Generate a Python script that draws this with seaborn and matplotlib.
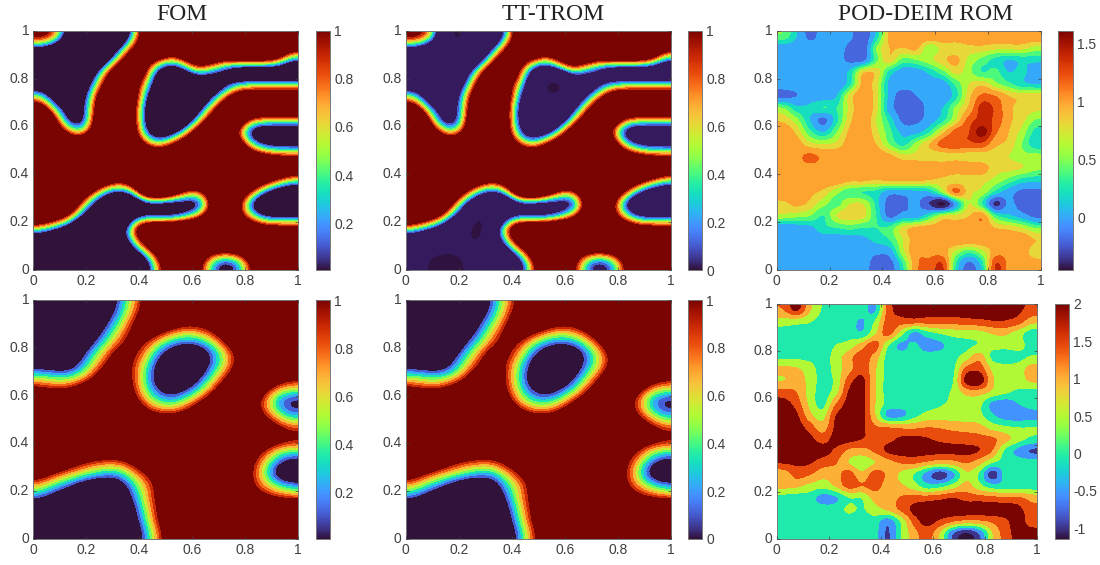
import numpy as np
import matplotlib
matplotlib.use("Agg")
import matplotlib.pyplot as plt
from matplotlib.colors import BoundaryNorm, ListedColormap, Normalize
from matplotlib.cm import ScalarMappable
import seaborn as sns

# Signed distance (hundredths of the unit square) to the phase interface, cells top row first.
PHASE_TOP = np.array([
[3,2,-2,-7,-10,-10,-6,-1,4,9,10,10,10,10,10,10,10,10,10,10],
[-2,-3,-6,-10,-10,-6,-2,2,5,8,4.5,7,9,8,7,7,7,7,6,3],
[-7,-8,-10,-10,-7,-3,1,5,4,1.5,0,2,4.5,3.5,2,3,3,3,2,-1.5],
[-10,-10,-10,-8,-3,1,5,7,2,-3,-5,-2.5,0,-1.5,-3,-5.5,-5.5,-5.5,-5.5,-6],
[-4,-5,-8,-5,-1.5,3,6,3.5,.5,-4,-8,-7,-5,-5,-3,-1,-.5,-.5,-.5,-.5],
[0,-3,-6,-4,.5,5,9,4,-1,-6,-10,-10,-6,-2.5,1,4,4.5,4.5,4.5,4.5],
[4,0,-3,-3.5,1,6,10,3,-2,-7,-10,-8,-3,1,4.5,7,6,5.5,5.5,5.5],
[9,3.5,-2,-4,1.5,7,10,3,-2,-7,-8,-4,0,3.5,6,5,1,.5,.5,.5],
[10,5,2,-.5,2.5,7,10,3.5,-1.5,-4.5,-3,0,3.5,7,6,1,-3.5,-4.5,-4.5,-4.5],
[10,9,5,4.5,7,10,10,5,1.5,0,2,4,8,10,7,4,-.5,-2.5,-3,-3],
[10,10,10,9,10,10,10,9,5.5,4.5,5.5,8,10,10,9,6,4,2.5,2,2],
[10,10,10,10,10,9,8,8,10,10,10,10,10,10,10,10,10,8.5,6.5,5],
[10,10,10,9,6,4,2.5,4,7,8,7,6,5.5,7,7,6.5,5,3.5,1.5,0],
[10,10,9,5,2,-1,-2.3,-.5,5.7,7.8,5,1.5,.9,4.5,8,4.5,2,-1.5,-3.5,-4.5],
[10,8.5,6,2,-2,-5,-7,-6,-3.5,-4,-4,-3.5,-3.5,2.5,7,2.5,-2.5,-6,-7,-7],
[5.5,4,2.5,-1,-4.5,-7,-10,-3,-2.5,-2.5,-2.5,-1.5,1,4,7.5,3,0,-2,-2.3,-2.3],
[.5,-.8,-2.5,-6,-9,-10,-3.5,1.2,5.8,5.8,5.8,7,6,9,10,6,4.5,3,2.7,2.7],
[-4.5,-6,-8,-10,-10,-9,-5,0,4,7,9,9,8,7.5,7,8,7.5,8,8,8],
[-10,-10,-10,-10,-10,-10,-7,-3.5,0,3.5,7,8,4.5,2.5,2,2.5,4.5,8,10,10],
[-10,-10,-10,-10,-10,-10,-10,-7.5,-3.5,1.2,5,6,2.8,-1,-3,-1.5,2,6.5,10,10],
])

PHASE_BOTTOM = np.array([
[-10,-10,-10,-10,-10,-7,-3,1,5,10,10,10,10,10,10,10,10,10,10,10],
[-10,-10,-10,-10,-9,-5,-1.5,2.5,7,10,9,7,7,8,10,10,10,10,10,10],
[-10,-10,-10,-10,-7,-3,.5,4.5,8,6,3.5,2,2.5,4.5,8,10,10,10,10,10],
[-10,-10,-10,-9,-4,-1,2.5,6,4,.5,-2,-3,-2.5,0,4,8,10,10,10,10],
[-10,-10,-9,-5,-1.5,2,6,5,1.5,-3,-6,-8,-7,-3.5,.5,5,9,10,10,10],
[-5,-5.5,-6,-3.5,.5,4,8,3.5,-.5,-5,-9,-10,-7,-3,.5,5,9,10,10,10],
[0,-.7,-1,.5,3.5,8,8,3.5,-1,-6,-9,-8,-4.5,-.5,3.5,8,10,10,7,5],
[5,4,4,6,8,10,9,4,-.5,-4,-6,-4,-1.5,2.5,7,10,8,5,1,0],
[10,9,9,10,10,10,10,6,1.5,-1,-1.5,0,3.5,7,10,10,6,2,-3,-5],
[10,10,10,10,10,10,10,10,5.5,3.5,3,5,8,10,10,10,7,3,-.5,-3],
[10,10,10,10,10,10,10,10,10,10,10,10,10,10,10,10,9,7,4,2],
[10,10,10,10,10,10,10,10,10,10,10,10,10,10,10,10,10,8,7,5.5],
[10,10,10,10,9,8,8,9,10,10,10,10,10,10,10,10,7,4,1,0],
[10,10,7.5,5,3.5,3,3,5,7.5,10,10,10,10,10,10,9,4.5,1,-3,-5],
[6.5,4,2,.7,-.7,-2,-2,1,4,6.5,10,10,10,10,10,9,4,-.7,-6,-8],
[1.5,-1,-2.5,-5,-7,-7,-6,-2,1.5,5,10,10,10,10,10,9,4,1.5,-1,-2.5],
[-3,-5,-7.5,-10,-10,-10,-7.5,-3.5,1,5,9,10,10,10,10,10,7,4.5,3.5,2.5],
[-8,-10,-10,-10,-10,-10,-10,-5,0,4.5,9.5,10,10,10,10,10,10,10,10,10],
[-10,-10,-10,-10,-10,-10,-10,-6,-1,4,9,10,10,10,10,10,10,10,10,10],
[-10,-10,-10,-10,-10,-10,-10,-7.5,-2.5,2.5,7.5,10,10,10,10,10,10,10,10,10],
])

# Deeper spots the reduced model shows inside the dark phase: (row, column, value).
TROM_SPOTS = [(0,3,-13),(4,10,-13),(4,11,-15),(15,5,-12),(16,5,-15),(17,5,-12),
              (19,2,-14),(19,3,-14)]

POD_TOP = np.array([
[.45,.2,-.05,.1,.1,.05,-.15,.25,.85,.95,.95,.95,.95,.95,.95,.95,.95,.95,.95,.95],
[.1,.1,.1,.1,.1,-.05,-.15,.5,.8,.8,.85,.55,.7,.7,.75,.75,.7,.7,.7,.6],
[.1,.1,.1,.1,.1,-.05,-.05,.45,.75,.45,.5,.6,.75,.85,.6,.45,.3,.2,.25,.25],
[.1,.1,.1,.1,.1,.25,.75,.75,.3,.1,.1,.25,.45,.7,.55,.35,.4,.2,.25,.1],
[.1,.1,.1,.1,.05,.3,.85,.7,.15,.1,.05,.1,.1,.4,.65,.75,.55,.4,.25,.2],
[-.05,0,.1,.1,.2,.7,.95,.7,.15,-.1,0,.1,.05,.3,.75,1.05,1,.8,.75,.75],
[.5,.25,.25,.35,.35,.7,.95,.7,.1,-.1,-.15,.1,.2,.55,.85,1.3,1.15,.85,.75,.7],
[.75,.55,.2,-.05,.3,.75,.95,.65,.3,-.05,-.05,.1,.3,.65,1.1,1.25,1.15,.85,.7,.5],
[.95,.75,.4,.2,.5,.85,.95,.7,.4,.15,.15,.35,.75,1.1,1.2,1.5,1.05,.8,.6,.3],
[.95,.9,.7,.65,.7,.9,.95,.8,.5,.3,.55,.8,1.1,1.15,1.15,1.15,.85,.75,.5,.25],
[.95,.95,1.05,.95,.95,.95,.95,.95,.85,.7,.7,.7,.7,.75,.7,.7,.7,.65,.55,.55],
[.95,.95,.95,.95,.95,.95,.95,.95,.95,.95,.95,.95,.95,.95,.95,.9,.7,.7,.65,.55],
[.95,.95,.95,.95,.95,.85,.85,.8,.85,.85,.85,.8,.75,.7,.7,.7,.6,.45,.3,.25],
[.95,.95,.85,.75,.55,.4,.35,.3,.1,.1,.15,.2,.55,1.05,.7,.6,.3,.1,-.05,-.05],
[.75,.85,.75,.55,.45,.65,.65,.3,-.1,-.05,.05,-.2,-.45,.1,.65,.35,-.25,.05,-.1,-.1],
[.6,.55,.5,.35,.65,.75,.7,.35,-.05,.1,.1,.35,.65,.7,.8,.95,.4,.25,.1,-.05],
[.05,.1,.15,.3,.35,.4,.35,.35,.4,.7,.85,.9,.9,.9,.95,.95,.8,.75,.65,.5],
[.1,.1,.1,.1,.1,.1,.15,.25,.35,.65,.9,.95,.95,.95,.95,.95,.95,.95,.95,.8],
[.1,.1,.1,.1,.1,.1,.1,.05,.1,.6,.95,.95,.9,.6,.4,.6,.9,.95,.9,.7],
[.1,.1,.1,.1,.1,.1,.1,-.1,-.1,.35,.95,1.05,1.2,.35,-.05,.3,1.2,.95,.95,.9],
])

POD_BOTTOM = np.array([
[1.5,2.1,1.1,.45,.25,.25,.25,-.05,1.7,2.2,2.3,2.3,2.3,2.3,2.3,2.3,2.3,2.2,2.1,1.8],
[.75,.7,.55,.3,.25,.25,-.05,.55,1.75,1.75,1.75,1.7,1.7,1.7,1.8,1.85,1.95,1.95,1.75,1.2],
[.25,.25,.25,.25,.25,.3,.1,.9,1.7,.75,-.1,.3,.55,.7,.75,.8,1.05,1.1,.75,.25],
[.25,.25,.25,.25,.5,.7,1.25,1.75,.6,-.1,.1,-.25,-.1,.25,.4,.55,.7,.7,.7,.3],
[.4,.4,.35,.3,.7,1.3,1.75,1.3,.35,.25,.25,.25,.25,.35,.75,1.3,.4,.25,.35,.55],
[1.1,1.05,.75,.3,.7,1.3,1.8,1.1,.3,.25,.25,.25,.25,.4,1.65,1.8,.9,.7,.75,1.2],
[1,1.2,.85,.3,.65,1.75,2.15,1.1,.3,.25,.25,.25,.25,.5,2.2,2.4,1.1,.7,.75,1.1],
[1.7,1.5,.8,.3,.8,2.05,2.2,1.1,.3,.25,.25,.25,.3,.6,1.2,1.25,.9,.6,.4,.3],
[2.2,1.8,.9,.35,1.5,2.2,2.2,1.05,.35,.25,.25,.3,.45,.6,.7,.65,-.1,-.3,0,.25],
[2.25,2.1,1.2,.8,2.0,2.2,2.2,1.1,-.1,-.1,.35,.7,.75,.75,.7,.65,.1,-.25,-.3,-.2],
[2.25,2.25,1.8,1.25,2.1,2.25,2.1,1.6,1.5,1.4,1.4,1.5,1.45,1.35,1.3,1.2,.8,.6,.5,.5],
[2.25,2.25,2.15,1.8,2.2,2.2,2,1.85,1.85,2.1,2.15,2.05,1.9,1.8,1.75,1.7,1.6,1.2,.7,.4],
[2.25,2.25,2.25,2.2,1.9,1.4,1.3,1.6,2.1,2.25,2.25,2.2,2.15,2.15,2.15,2,1.5,.4,-.15,-.55],
[2.05,2.1,2.05,1.75,1.55,1,.7,1,1.3,1.55,1.6,1.4,1.2,1.3,1.55,1.2,.55,.3,.25,.25],
[1.2,1.7,1.55,1.2,1.25,1.75,1.15,1.75,1.4,.9,.5,-.2,-.8,-.1,.9,.45,-.75,.2,.25,.25],
[1.15,1.1,.85,.7,1.05,1.7,1.5,1.7,1.25,1.1,.75,.25,.35,.75,1.2,.7,.25,.25,.25,.25],
[.3,.25,.25,-.2,-.05,.5,.55,1.2,1.25,1.55,1.7,1.75,1.85,2,1.8,1.75,1.65,1.6,1.6,1.3],
[.25,.25,.25,.25,.25,.6,.45,.8,1.1,1.6,2.15,2.3,2.3,2.3,2.3,2.3,2.3,2.25,2.15,1.7],
[.25,.25,.25,.25,.25,.25,.25,.3,-.3,.6,1.7,2.2,1.9,1.55,1.35,1.4,1.6,1.9,2.25,1.75],
[.25,.25,.2,.1,.25,.25,.25,.2,-.55,.5,1.3,1.75,1,-.4,-1,-.4,1,1.75,2.2,2.25],
])

TITLES = ["FOM", "TT-TROM", "POD-DEIM ROM"]
AXIS_TICKS = [0, 0.2, 0.4, 0.6, 0.8, 1]
TICK_LABELS = ["0", "0.2", "0.4", "0.6", "0.8", "1"]
POD_TOP_LEVELS = [-0.4, -0.2, 0, 0.2, 0.35, 0.5, 0.65, 0.8, 1.0, 1.2, 1.4]
POD_TOP_SHADES = [0.0, .03, .12, .22, .32, .41, .51, .61, .70, .80, .90, .97]
POD_BOTTOM_LEVELS = [-1, -0.5, 0, 0.5, 1, 1.5, 2]
POD_BOTTOM_SHADES = [0.0, .05, .19, .35, .52, .68, .82, 1.0]

sns.set_style("white")
plt.rcParams["font.family"] = ["Liberation Sans", "DejaVu Sans"]
TEXT = "#404040"
turbo = matplotlib.colormaps["turbo"]
W, H = 1100, 565
fig = plt.figure(figsize=(W / 100, H / 100), dpi=100)


def px_axes(x0, x1, y0, y1):
    return fig.add_axes([x0 / W, 1 - y1 / H, (x1 - x0) / W, (y1 - y0) / H])


def draw_panel(box, data, cmap, norm, interp):
    ax = px_axes(*box)
    n = data.shape[0]
    sns.heatmap(data, ax=ax, cmap=cmap, norm=norm, cbar=False)
    ax.imshow(data, cmap=cmap, norm=norm, extent=(0, n, n, 0), aspect="auto",
              interpolation=interp, interpolation_stage="data", zorder=2)
    ax.set_xlim(0, n)
    ax.set_ylim(n, 0)
    ax.set_xticks([t * n for t in AXIS_TICKS], TICK_LABELS, rotation=0)
    ax.set_yticks([(1 - t) * n for t in AXIS_TICKS], TICK_LABELS, rotation=0)
    ax.tick_params(direction="in", length=2.5, width=.5, color=TEXT, labelcolor=TEXT,
                   labelsize=10, pad=3, top=True, right=True, bottom=True, left=True,
                   labeltop=False, labelright=False)
    for s in ax.spines.values():
        s.set_visible(True)
        s.set_color("#777777")
        s.set_linewidth(.7)
    ax.set_axisbelow(False)
    return ax


def draw_bar(box, lo, hi, ticks, labels):
    cax = px_axes(*box)
    cb = fig.colorbar(ScalarMappable(Normalize(lo, hi), turbo), cax=cax)
    cb.set_ticks(ticks, labels=labels)
    cax.tick_params(direction="in", length=2.5, width=.5, color=TEXT, labelcolor=TEXT,
                    labelsize=10, pad=3, right=True)
    cb.outline.set_edgecolor("#777777")
    cb.outline.set_linewidth(.7)


def phase_style(half_width, inner=None):
    edges = [-half_width + 0.2 * half_width * k for k in range(1, 10)]
    colors = [turbo(s) for s in np.linspace(0.0, 1.0, 10)]
    if inner is not None:
        edges = [-11] + edges
        colors = ["#2f1240", inner] + colors[1:]
    bounds = [-99] + edges + [99]
    return ListedColormap(colors), BoundaryNorm(bounds, len(colors))


def band_style(levels, shades):
    bounds = [-99] + list(levels) + [99]
    return ListedColormap([turbo(s) for s in shades]), BoundaryNorm(bounds, len(shades))


trom_top = PHASE_TOP.copy()
for r, c, v in TROM_SPOTS:
    trom_top[r, c] = v

top = (30.7, 270)
bot = (300, 539)
c1, n1 = phase_style(2.2)
c1t, n1t = phase_style(2.2, inner="#351b5e")
c2, n2 = phase_style(4.5)
c3, n3 = band_style(POD_TOP_LEVELS, POD_TOP_SHADES)
c4, n4 = band_style(POD_BOTTOM_LEVELS, POD_BOTTOM_SHADES)

draw_panel((33.3, 298.3, *top), PHASE_TOP, c1, n1, "bicubic")
draw_panel((405.7, 670.7, *top), trom_top, c1t, n1t, "bicubic")
draw_panel((776.7, 1041, *top), POD_TOP, c3, n3, "catrom")
draw_panel((33.3, 298.3, *bot), PHASE_BOTTOM, c2, n2, "bicubic")
draw_panel((405.7, 670.7, *bot), PHASE_BOTTOM, c2, n2, "bicubic")
draw_panel((776.7, 1037.3, 304, 539), POD_BOTTOM, c4, n4, "catrom")

for title, cx in zip(TITLES, (181.5, 553.5, 925)):
    fig.text(cx / W, 1 - 19.5 / H, title, ha="center", va="baseline",
             family="Liberation Serif", fontsize=17, color="#222222")

draw_bar((315.7, 330, *top), 0.005, 1, [.2, .4, .6, .8, 1], ["0.2", "0.4", "0.6", "0.8", "1"])
draw_bar((687.7, 702.3, *top), 0, 1, [0, .2, .4, .6, .8, 1], ["0", "0.2", "0.4", "0.6", "0.8", "1"])
draw_bar((1058.3, 1073.3, *top), -0.454, 1.61, [0, .5, 1, 1.5], ["0", "0.5", "1", "1.5"])
draw_bar((315.7, 330, *bot), 0.005, 1, [.2, .4, .6, .8, 1], ["0.2", "0.4", "0.6", "0.8", "1"])
draw_bar((687.7, 702.3, *bot), 0, 1, [0, .2, .4, .6, .8, 1], ["0", "0.2", "0.4", "0.6", "0.8", "1"])
draw_bar((1054.7, 1069, 304, 539), -1.143, 2, [-1, -.5, 0, .5, 1, 1.5, 2],
         ["-1", "-0.5", "0", "0.5", "1", "1.5", "2"])

fig.savefig("out.png", dpi=100)
